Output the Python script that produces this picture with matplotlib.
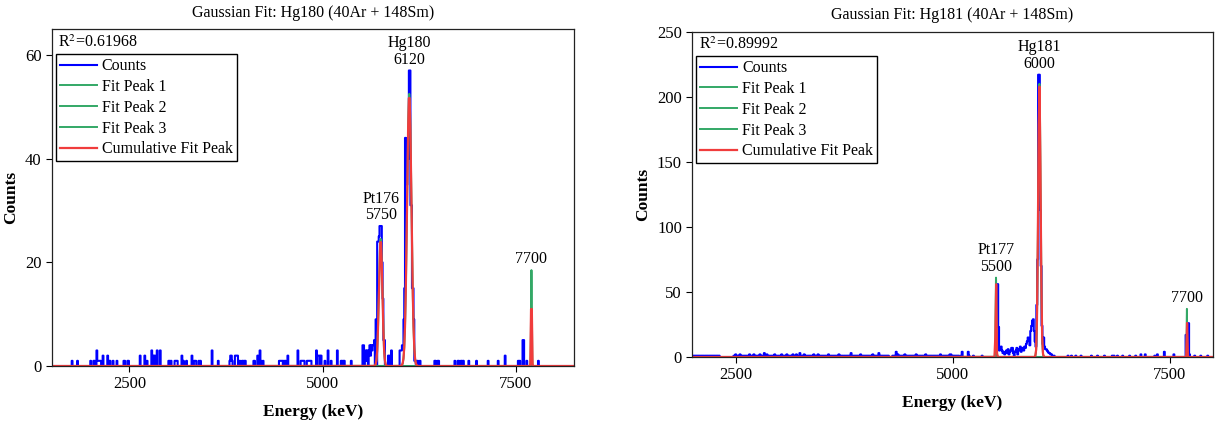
import numpy as np
import matplotlib
matplotlib.use('Agg')
import matplotlib.pyplot as plt

plt.rcParams['font.family'] = ['Liberation Serif', 'DejaVu Serif']
plt.rcParams['mathtext.fontset'] = 'stix'

BIN = 10  # keV per channel

# ---- Hg180 (40Ar + 148Sm): non-empty channels ----
e180 = [1760, 1830, 2000, 2040, 2050, 2080, 2090, 2100, 2110, 2120, 2130, 2160,
        2220, 2240, 2250, 2290, 2340, 2430, 2440, 2480, 2490, 2640, 2700, 2730,
        2790, 2810, 2830, 2860, 2900, 3010, 3020, 3040, 3090, 3100, 3110, 3120,
        3180, 3200, 3240, 3310, 3340, 3350, 3360, 3400, 3420, 3570, 3650, 3800,
        3810, 3820, 3830, 3870, 3880, 3890, 3900, 3920, 3930, 3960, 3970, 3990,
        4000, 4110, 4120, 4160, 4190, 4200, 4230, 4440, 4450, 4460, 4470, 4480,
        4500, 4520, 4550, 4680, 4720, 4730, 4740, 4750, 4760, 4800, 4810, 4820,
        4830, 4840, 4850, 4920, 4940, 4950, 4960, 4980, 5030, 5070, 5110, 5190,
        5240, 5250, 5270, 5280, 5370,
        5520, 5530, 5550, 5560, 5570, 5580, 5600, 5610, 5620, 5630, 5640, 5650,
        5660, 5670, 5690, 5710, 5720, 5730, 5740, 5750, 5760, 5770, 5780, 5790,
        5800, 5850, 5860, 5890, 6000, 6010, 6020, 6030, 6040, 6050, 6060, 6070,
        6080, 6090, 6100, 6110, 6120, 6130, 6140, 6150, 6160, 6170, 6180, 6190,
        6200, 6220, 6230, 6260, 6450, 6460, 6490, 6500, 6710, 6750, 6760, 6790,
        6800, 6820, 6890, 6990, 7140, 7270, 7360, 7530, 7550, 7590, 7600, 7640,
        7700, 7790]
c180 = [1, 1, 1, 1, 1, 3, 1, 1, 1, 1, 1, 2,
        2, 1, 1, 1, 1, 1, 1, 1, 1, 2, 2, 1,
        3, 2, 2, 3, 3, 1, 1, 1, 1, 1, 1, 1,
        2, 1, 1, 2, 1, 1, 1, 1, 1, 3, 1, 1,
        2, 2, 1, 2, 2, 2, 2, 1, 1, 1, 1, 1,
        1, 1, 1, 2, 3, 1, 1, 1, 1, 1, 1, 1,
        1, 1, 2, 3, 1, 1, 1, 1, 1, 1, 1, 1,
        1, 1, 1, 3, 2, 2, 2, 2, 1, 3, 1, 3,
        1, 1, 1, 1, 1,
        4, 4, 2, 3, 1, 3, 3, 4, 2, 4, 3, 4,
        4, 5, 9, 24, 24, 25, 27, 27, 27, 20, 13, 5,
        5, 2, 2, 3, 3, 3, 3, 4, 4, 9, 15, 44,
        41, 35, 44, 40, 57, 57, 31, 31, 15, 15, 9, 1,
        1, 1, 1, 1, 1, 1, 1, 1, 1, 1, 1, 1,
        1, 1, 1, 1, 1, 1, 2, 1, 1, 5, 5, 1,
        9, 1]

# ---- Hg181 (40Ar + 148Sm) ----
# flat background from 2000 keV, one digit per channel
bg181_start = 2000
bg181 = ("11011111101111011110111111101101"
         "000000000000000"
         "01120111211101101112111021011112101131021110111121101"
         "11121110121101112101211131111211101111012111021101"
         "11101112011101110112111101101110131101111011201110"
         "11110111201101130111101011100001101402111011121110"
         "11011111201111011102110111101110111021111011111221"
         "0110101100" "1400000041" "0000100000" "0000100000")
e181 = [5510, 5520, 5530, 5540, 5550, 5560, 5570, 5580, 5590, 5600, 5610, 5620,
        5630, 5640, 5650, 5660, 5670, 5680, 5690, 5700, 5710, 5720, 5730, 5740,
        5750, 5760, 5770, 5780, 5790, 5800, 5810, 5820, 5830, 5840, 5850, 5860,
        5870, 5880, 5890, 5900, 5910, 5920, 5930, 5940, 5950, 5960, 5970, 5980,
        5990, 6000, 6010, 6020, 6030, 6040, 6050, 6060, 6070, 6080, 6090, 6100,
        6110, 6120, 6130, 6140, 6150, 6170, 6330, 6370, 6420, 6480, 6600, 6670,
        6750, 6840, 6860, 6900, 6960, 7040, 7110, 7170, 7220, 7330, 7360, 7440,
        7550, 7690, 7720, 7730, 7790, 7860, 7940]
c181 = [56, 56, 23, 5, 7, 8, 5, 3, 4, 2, 3, 5,
        3, 6, 2, 4, 5, 7, 7, 3, 1, 4, 5, 7,
        2, 5, 6, 8, 4, 6, 7, 5, 8, 7, 10, 12,
        15, 13, 9, 20, 24, 28, 29, 20, 12, 8, 40, 75,
        217, 217, 113, 70, 24, 10, 15, 8, 6, 6, 5, 4,
        3, 3, 2, 2, 1, 1, 1, 1, 1, 1, 1, 1,
        1, 1, 1, 1, 1, 1, 1, 2, 2, 1, 2, 4,
        2, 17, 26, 2, 1, 1, 1]

# fitted gaussian components: centre (keV), height, sigma (keV)
mu180 = [5750, 6120, 7700]
amp180 = [24.5, 52.5, 18.5]
sig180 = [22, 28, 4.9]
r2_180 = 0.61968

mu181 = [5500, 6000, 7700]
amp181 = [61, 210, 37]
sig181 = [4.8, 14, 2.4]
r2_181 = 0.89992

labels180 = ['Pt176\n5750', 'Hg180\n6120', '7700']
labels181 = ['Pt177\n5500', 'Hg181\n6000', '7700']

BLUE = '#0000ff'
GREEN = '#33a866'
RED = '#f03c3c'


def gauss(x, mu, amp, sig):
    return amp * np.exp(-(x - mu) ** 2 / (2 * sig ** 2))


def spectrum(x0, x1, energies, counts):
    grid = np.arange(x0, x1 + BIN, BIN)
    y = np.zeros(len(grid))
    idx = np.round((np.asarray(energies) - x0) / BIN).astype(int)
    y[idx] = counts
    return grid, y


def draw_panel(ax, grid, counts, mus, amps, sigs, r2, labels, title,
               xlim, ylim, yticks, phase):
    fine = np.arange(xlim[0], xlim[1], 0.5)
    coarse = np.arange(xlim[0] + phase, xlim[1], BIN)

    ax.step(grid, counts, where='mid', color=BLUE, lw=1.5, label='Counts')
    for i, (m, a, s) in enumerate(zip(mus, amps, sigs)):
        ax.plot(fine, gauss(fine, m, a, s), color=GREEN, lw=1.4,
                label=f'Fit Peak {i + 1}')
    total = sum(gauss(coarse, m, a, s) for m, a, s in zip(mus, amps, sigs))
    ax.plot(coarse, total, color=RED, lw=1.6, label='Cumulative Fit Peak')

    # peak labels sit just above the tallest mark near each centre
    for m, a, txt in zip(mus, amps, labels):
        near = np.abs(grid - m) <= 30
        top = max(a, counts[near].max())
        ax.annotate(txt, xy=(m, top), xytext=(0, 2), textcoords='offset points',
                    ha='center', va='bottom', fontsize=11.5, linespacing=1.05)

    ax.text(0.012, 0.985, f'R$^2$={r2:.5f}', transform=ax.transAxes,
            ha='left', va='top', fontsize=11.5)

    ax.set_xlim(*xlim)
    ax.set_ylim(*ylim)
    ax.set_xticks([2500, 5000, 7500])
    ax.set_yticks(yticks)
    ax.tick_params(direction='out', length=4, width=0.8, labelsize=12,
                   top=False, right=False)
    for sp in ax.spines.values():
        sp.set_linewidth(0.9)
        sp.set_color('#222222')
    ax.set_title(title, fontsize=11.5, pad=9)
    ax.set_xlabel('Energy (keV)', fontsize=12.5, fontweight='bold', labelpad=8)
    ax.set_ylabel('Counts', fontsize=12.5, fontweight='bold')
    leg = ax.legend(loc='upper left', bbox_to_anchor=(0.008, 0.925),
                    borderaxespad=0, fontsize=11.5, fancybox=False,
                    edgecolor='black', framealpha=1, handlelength=2.3,
                    handletextpad=0.3, labelspacing=0.3, borderpad=0.25)
    leg.get_frame().set_linewidth(1.0)


fig = plt.figure(figsize=(12.15, 4.21), dpi=100)
ax1 = fig.add_axes([0.0428, 0.1306, 0.4296, 0.8005])
ax2 = fig.add_axes([0.5698, 0.152, 0.4285, 0.7725])

g180, y180 = spectrum(1500, 8250, e180, c180)
draw_panel(ax1, g180, y180, mu180, amp180, sig180, r2_180, labels180,
           'Gaussian Fit: Hg180 (40Ar + 148Sm)', (1500, 8250), (0, 65),
           [0, 20, 40, 60], 5)

bg_e = bg181_start + BIN * np.arange(len(bg181))
bg_c = [int(ch) for ch in bg181]
g181, y181 = spectrum(2000, 8000, list(bg_e) + e181, bg_c + c181)
draw_panel(ax2, g181, y181, mu181, amp181, sig181, r2_181, labels181,
           'Gaussian Fit: Hg181 (40Ar + 148Sm)', (2000, 8000), (0, 250),
           [0, 50, 100, 150, 200, 250], 2)

fig.savefig('out.png', dpi=100)
